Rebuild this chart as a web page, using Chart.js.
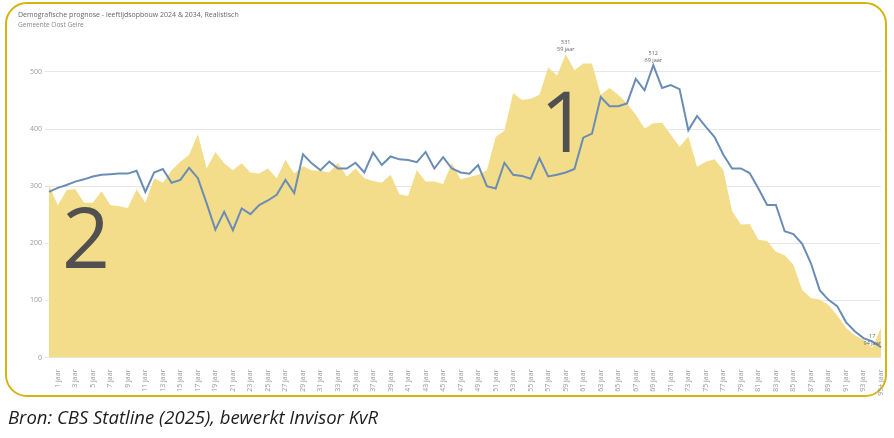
<!DOCTYPE html>
<html>
<head>
<meta charset="utf-8">
<script src="https://cdn.jsdelivr.net/npm/chart.js@4/dist/chart.umd.min.js"></script>
<style>
  body { margin: 0; background: #fff; width: 894px; height: 438px; overflow: hidden; position: relative; font-family: "Open Sans", sans-serif; }
  .frame { position: absolute; left: 5px; top: 2px; width: 878px; height: 391px; border: 2.5px solid #d6b410; border-radius: 22px; }
  .title { position: absolute; left: 18px; top: 10px; font-size: 7px; color: #666; white-space: nowrap; }
  .subtitle { position: absolute; left: 18px; top: 20px; font-size: 6.5px; color: #888; white-space: nowrap; }
  .big { position: absolute; font-size: 84px; color: #505050; line-height: 1; font-family: "Open Sans", sans-serif; }
  .caption { position: absolute; left: 8px; top: 404px; font-size: 18.5px; font-style: italic; color: #1e1e1e; white-space: nowrap; }
  #chart { position: absolute; left: 0; top: 0; }
</style>
</head>
<body>
<div class="frame"></div>
<canvas id="chart" width="894" height="438"></canvas>
<div class="title">Demografische prognose - leeftijdsopbouw 2024 &amp; 2034, Realistisch</div>
<div class="subtitle">Gemeente Oost Gelre</div>
<div class="big" style="left:540px; top:78px;">1</div>
<div class="big" style="left:62px; top:194px;">2</div>
<div class="caption">Bron: CBS Statline (2025), bewerkt Invisor KvR</div>
<script>
// Age categories: 0 jaar .. 94 jaar, 95+ jaar
const ages = Array.from({ length: 95 }, (_, i) => i + ' jaar').concat(['95+ jaar']);

// 2024 (area)
const pop2024 = [
  302, 266, 293, 295, 271, 271, 291, 267, 265, 262,
  294, 271, 314, 306, 328, 343, 355, 391, 331, 360,
  340, 328, 340, 324, 322, 331, 314, 346, 322, 335,
  328, 327, 324, 341, 317, 331, 314, 309, 306, 320,
  286, 283, 328, 308, 308, 304, 340, 312, 316, 320,
  328, 386, 397, 463, 451, 453, 460, 508, 494, 531,
  503, 515, 515, 460, 472, 460, 445, 425, 401, 410,
  411, 390, 369, 387, 334, 343, 347, 328, 256, 233,
  234, 206, 204, 185, 179, 162, 118, 104, 101, 92,
  74, 52, 39, 31, 17, 52
];

// 2034 (line)
const pop2034 = [
  290, 297, 302, 308, 312, 317, 320, 321, 322, 322,
  327, 290, 324, 330, 306, 311, 332, 314, 270, 224,
  255, 223, 261, 251, 267, 275, 285, 311, 288, 356,
  340, 328, 343, 331, 331, 341, 324, 359, 337, 352,
  347, 346, 342, 360, 331, 351, 331, 324, 322, 337,
  300, 296, 341, 320, 318, 313, 349, 317, 320, 324,
  330, 385, 392, 456, 440, 440, 445, 488, 468, 512,
  472, 477, 470, 398, 423, 404, 386, 355, 331, 331,
  323, 296, 267, 267, 221, 216, 199, 165, 118, 101,
  90, 62, 46, 34, 28, 18
];

const yTicks = [0, 100, 200, 300, 400, 500];

// highlighted points: [datasetIndex, categoryIndex]
const markedPoints = [[1, 59], [0, 69], [1, 94]];

const pointLabels = {
  id: 'pointLabels',
  afterDatasetsDraw(chart) {
    const ctx = chart.ctx;
    ctx.save();
    ctx.fillStyle = '#666';
    ctx.textAlign = 'center';
    ctx.font = '5.5px "Open Sans"';
    markedPoints.forEach(([ds, idx]) => {
      const pt = chart.getDatasetMeta(ds).data[idx];
      const val = chart.data.datasets[ds].data[idx];
      ctx.fillText(String(val), pt.x, pt.y - 10);
      ctx.fillText(ages[idx], pt.x, pt.y - 3);
    });
    ctx.restore();
  }
};

new Chart(document.getElementById('chart'), {
  type: 'line',
  data: {
    labels: ages,
    datasets: [
      {
        label: '2034',
        data: pop2034,
        borderColor: '#6a8db5',
        borderWidth: 2,
        pointRadius: 0,
        fill: false,
        tension: 0,
        order: 0
      },
      {
        label: '2024',
        data: pop2024,
        borderWidth: 0,
        backgroundColor: '#f3dd8b',
        pointRadius: 0,
        fill: 'origin',
        tension: 0,
        order: 1
      }
    ]
  },
  options: {
    responsive: false,
    animation: false,
    devicePixelRatio: 1,
    layout: { padding: { left: 0, right: 13, top: 40, bottom: 0 } },
    plugins: { legend: { display: false }, tooltip: { enabled: false } },
    scales: {
      x: {
        grid: { display: false },
        border: { display: false },
        afterFit: s => { s.height = 80.5; },
        ticks: {
          autoSkip: false,
          minRotation: 90,
          maxRotation: 90,
          padding: 4,
          color: '#999',
          font: { size: 7, family: 'Open Sans' },
          callback: (v, i) => (i % 2 === 1 ? ages[i] : '')
        }
      },
      y: {
        min: 0,
        max: 556,
        afterBuildTicks: s => { s.ticks = yTicks.map(v => ({ value: v })); },
        afterFit: s => { s.width = 49; },
        border: { display: false },
        grid: { color: '#e6e6e6', tickLength: 4, tickColor: '#e6e6e6' },
        ticks: {
          padding: 3,
          color: '#999',
          font: { size: 7, family: 'Open Sans' }
        }
      }
    }
  },
  plugins: [pointLabels]
});
</script>
</body>
</html>
